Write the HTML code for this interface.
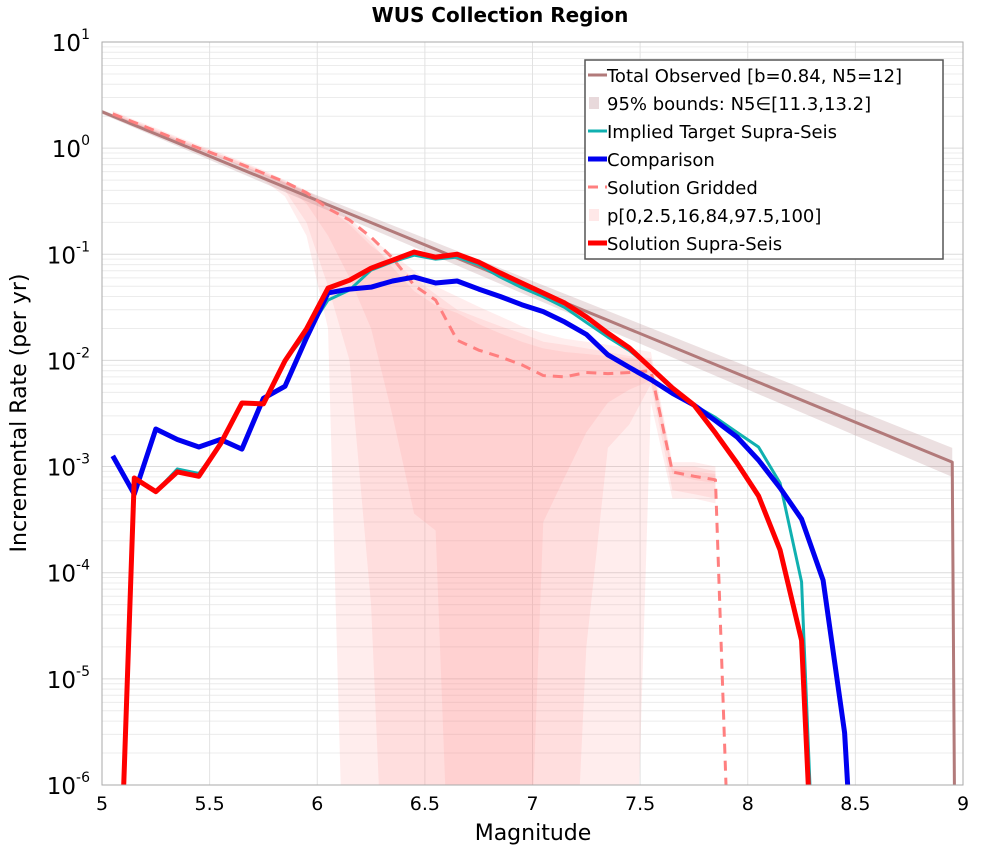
<!DOCTYPE html>
<html><head><meta charset="utf-8"><style>
html,body{margin:0;padding:0;background:#fff;overflow:hidden;}
svg{display:block;}
svg text{font-family:"DejaVu Sans","Liberation Sans",sans-serif;}
</style></head><body>
<svg id="chart" width="1000" height="850" xmlns="http://www.w3.org/2000/svg">
<defs><clipPath id="pc"><rect x="102" y="42" width="861" height="743"/></clipPath></defs>
<text x="500" y="22" text-anchor="middle" font-size="20" font-weight="bold">WUS Collection Region</text>
<rect x="102" y="42" width="861" height="743" fill="#fff"/>
<g id="grid"></g>
<g id="bands" clip-path="url(#pc)"></g>
<g id="lines" clip-path="url(#pc)"></g>
<rect x="102" y="42" width="861" height="743" fill="none" stroke="#aaa" stroke-width="1"/>
<g id="ticks"></g>
<text x="533" y="840" text-anchor="middle" font-size="22">Magnitude</text>
<text transform="translate(26,413) rotate(-90)" text-anchor="middle" font-size="22">Incremental Rate (per yr)</text>
<g id="legend"></g>
</svg>
<script>
const bins = [5.05,5.15,5.25,5.35,5.45,5.55,5.65,5.75,5.85,5.95,6.05,6.15,6.25,6.35,6.45,6.55,6.65,6.75,6.85,6.95,7.05,7.15,7.25,7.35,7.45,7.55,7.65,7.75,7.85,7.95,8.05,8.15,8.25,8.35,8.45,8.55];
const supraVals = [1e-9,7.8e-4,5.8e-4,8.9e-4,8.1e-4,1.63e-3,3.97e-3,3.9e-3,9.9e-3,0.0198,0.048,0.057,0.074,0.088,0.105,0.094,0.1,0.0845,0.0667,0.0536,0.0432,0.0347,0.0257,0.0181,0.0131,8.5e-3,5.5e-3,3.8e-3,2.07e-3,1.08e-3,5.3e-4,1.64e-4,2.3e-5,1e-9];
const compVals = [1.26e-3,5.5e-4,2.26e-3,1.8e-3,1.53e-3,1.8e-3,1.46e-3,4.4e-3,5.7e-3,0.0163,0.0432,0.047,0.049,0.056,0.061,0.0536,0.056,0.047,0.040,0.0335,0.0288,0.023,0.0176,0.0113,8.6e-3,6.6e-3,4.9e-3,3.8e-3,2.7e-3,1.9e-3,1.15e-3,6.3e-4,3.2e-4,8.5e-5,3.1e-6,1e-9];
const targetVals = [1e-9,7.8e-4,5.8e-4,9.5e-4,8.6e-4,1.6e-3,3.9e-3,3.9e-3,9.9e-3,0.018,0.037,0.046,0.071,0.085,0.098,0.09,0.094,0.08,0.061,0.0485,0.0398,0.0315,0.0228,0.0166,0.0124,8.5e-3,5.5e-3,3.8e-3,2.9e-3,2.1e-3,1.53e-3,7e-4,8.2e-5,1e-9];
const griddedVals = [2.1,1.75,1.45,1.2,1.0,0.84,0.7,0.58,0.48,0.38,0.27,0.21,0.145,0.092,0.051,0.037,0.0155,0.0125,0.0108,0.0091,0.0072,0.007,0.0077,0.0075,0.0077,0.008,8.9e-4,8.1e-4,7.5e-4,1e-9];
const p0Upper = [2.25,1.85,1.55,1.28,1.07,0.9,0.75,0.62,0.5,0.4,0.3,0.22,0.14,0.1,0.07,0.05,0.04,0.032,0.026,0.021,0.018,0.016,0.015,0.014,0.013,0.012,1.1e-3,1.1e-3,1e-3];
const p0Lower = [2.0,1.65,1.38,1.12,0.95,0.8,0.66,0.5,0.35,0.15,0.02,1e-9,1e-9,1e-9,1e-9,1e-9,1e-9,1e-9,1e-9,1e-9,1e-9,1e-9,1e-9,1e-9,1e-9,4e-3,5e-4,5e-4,4.5e-4];
const p25Upper = [2.2,1.8,1.5,1.25,1.04,0.87,0.73,0.6,0.48,0.38,0.27,0.19,0.12,0.085,0.06,0.042,0.03,0.025,0.021,0.018,0.015,0.014,0.013,0.012,0.011,0.0105,1e-3,1e-3,9e-4];
const p25Lower = [2.02,1.68,1.4,1.15,0.97,0.81,0.67,0.54,0.4,0.2,0.05,0.01,5e-5,1e-9,1e-9,1e-9,1e-9,1e-9,1e-9,1e-9,1e-9,1e-9,2e-5,1.5e-3,2.5e-3,6e-3,6e-4,5.5e-4,5e-4];
const p16Upper = [2.15,1.78,1.48,1.22,1.02,0.86,0.72,0.59,0.49,0.39,0.28,0.2,0.13,0.075,0.045,0.033,0.028,0.022,0.018,0.015,0.013,0.012,0.0115,0.011,0.0105,0.01,9.5e-4,9e-4,8.5e-4];
const p16Lower = [2.05,1.7,1.42,1.17,0.98,0.82,0.68,0.56,0.45,0.3,0.15,0.06,0.02,3e-3,3.6e-4,2.5e-4,1e-9,1e-9,1e-9,1e-9,3e-4,8e-4,2.1e-3,4e-3,5.3e-3,6.5e-3,8.5e-4,7.5e-4,7e-4];
const totalMags = [5.0,8.95,8.97];
const totalVals = [2.2,1.1e-3,1e-9];
const totalUpper = [2.3,1.5e-3];
const totalLower = [2.1,0.8e-3];
const xTicks = [5,5.5,6,6.5,7,7.5,8,8.5,9];
const xTickLabels = ["5","5.5","6","6.5","7","7.5","8","8.5","9"];
const yExps = [1,0,-1,-2,-3,-4,-5,-6];

const NS="http://www.w3.org/2000/svg";
const X=m=>102+(m-5)*215.25;
const Y=v=>42+(1-Math.log10(Math.max(v,1e-12)))*106.14;
function mk(tag,attrs,parent){const e=document.createElementNS(NS,tag);for(const k in attrs)e.setAttribute(k,attrs[k]);parent.appendChild(e);return e;}
const grid=document.getElementById('grid'),bands=document.getElementById('bands'),lines=document.getElementById('lines'),ticks=document.getElementById('ticks'),legend=document.getElementById('legend');
for(let e=-6;e<1;e++){for(let k=1;k<10;k++){const y=Y(k*Math.pow(10,e));
 const g=mk('line',{x1:102,x2:963,y1:y,y2:y,stroke:k==1?'#dcdcdc':'#ececec','stroke-width':1},grid);
 
 }}
xTicks.forEach(m=>{const g=mk('line',{x1:X(m),x2:X(m),y1:42,y2:785,stroke:'#e2e2e2','stroke-width':1},grid);
 
 });
xTicks.forEach((m,i)=>{const t=mk('text',{x:X(m),y:810,'text-anchor':'middle','font-size':19},ticks);t.textContent=xTickLabels[i];
 
 });
yExps.forEach(e=>{const y=Y(Math.pow(10,e));const t=mk('text',{x:90,y:y+9,'text-anchor':'end','font-size':23},ticks);
 
 
 t.textContent='10';const s=mk('tspan',{dy:-12,'font-size':14},t);s.textContent=String(e);});
function band(xs,up,lo,fill,name){let d='';xs.forEach((m,i)=>{d+=(i?'L':'M')+X(m)+','+Y(up[i]);});
 for(let i=xs.length-1;i>=0;i--)d+='L'+X(xs[i])+','+Math.min(Y(lo[i]),1200);d+='Z';
 const p=mk('path',{d:d,fill:fill},bands);
 
 }
const gb=bins.slice(0,29);
band(gb,p0Upper,p0Lower,'rgba(255,140,140,0.16)','gridded-band-p0-p100');
band(gb,p25Upper,p25Lower,'rgba(255,140,140,0.16)','gridded-band-p2.5-p97.5');
band(gb,p16Upper,p16Lower,'rgba(255,140,140,0.16)','gridded-band-p16-p84');
band([totalMags[0],totalMags[1]],totalUpper,totalLower,'rgba(180,130,135,0.25)','total-observed-bounds');
function line(xs,vals,attrs,name){const pts=vals.map((v,i)=>X(xs[i])+','+Math.min(Y(v),1200)).join(' ');
 const a=Object.assign({points:pts,fill:'none','stroke-linejoin':'round'},attrs);const p=mk('polyline',a,lines);
 
 }
line(totalMags,totalVals,{stroke:'#b27a7a','stroke-width':3},'total-observed-line');
line(bins.slice(0,30),griddedVals,{stroke:'#ff7f7f','stroke-width':3,'stroke-dasharray':'10,7'},'solution-gridded-line');
line(bins.slice(0,34),targetVals,{stroke:'#10b0b0','stroke-width':3},'implied-target-line');
line(bins,compVals,{stroke:'#0000f0','stroke-width':5},'comparison-line');
line(bins.slice(0,34),supraVals,{stroke:'#ff0000','stroke-width':5},'solution-supra-seis-line');
const lb=mk('rect',{x:585,y:60,width:358,height:199,fill:'#fff',stroke:'#555','stroke-width':1.5},legend);


const entries=[['Total Observed [b=0.84, N5=12]','line','#b27a7a',3,''],['95% bounds: N5∈[11.3,13.2]','box','rgba(180,130,135,0.3)',0,''],['Implied Target Supra-Seis','line','#10b0b0',3,''],['Comparison','line','#0000f0',5,''],[' Solution Gridded','line','#ff7f7f',3,'10,7'],['p[0,2.5,16,84,97.5,100]','box','rgba(255,140,140,0.2)',0,''],['Solution Supra-Seis','line','#ff0000',5,'']];
entries.forEach((en,i)=>{const y=75+i*28;
 const g=mk('g',{},legend);
 
 
 if(en[1]=='line')mk('line',{x1:588,x2:607,y1:y,y2:y,stroke:en[2],'stroke-width':en[3],'stroke-dasharray':en[4]},g);
 else mk('rect',{x:589,y:y-6,width:10,height:12,fill:en[2]},g);
 const t=mk('text',{x:607,y:y+7,'font-size':18},g);t.textContent=en[0];});
</script>
</body></html>
